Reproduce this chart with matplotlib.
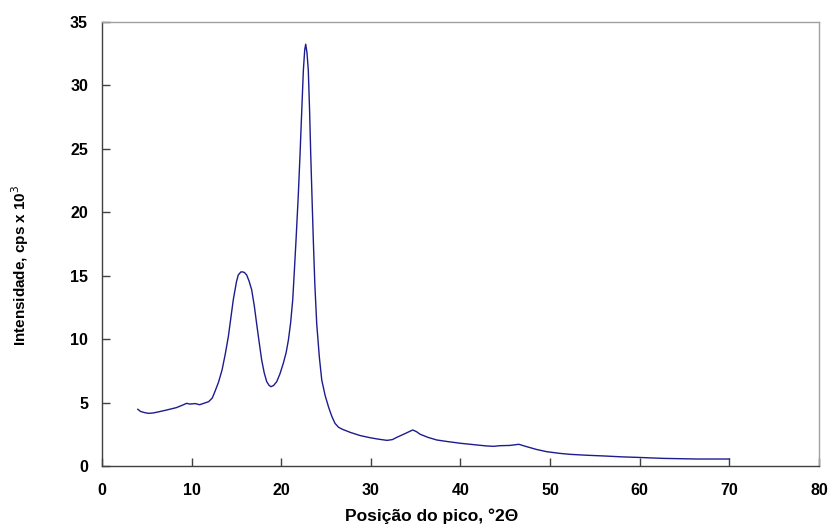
import matplotlib
matplotlib.use("Agg")
import matplotlib.pyplot as plt

# diffractogram
two_theta = [4.0, 4.3, 4.8, 5.2, 5.7, 6.2, 7.2, 8.3, 9.0, 9.45, 9.8, 10.4, 10.9, 11.4,
             11.9, 12.3, 12.6, 13.0, 13.4, 13.75, 14.1, 14.65, 15.0, 15.2, 15.5,
             15.7, 15.9, 16.15, 16.4, 16.7, 17.0, 17.26, 17.55, 17.82, 18.1, 18.38,
             18.65, 18.86, 19.15, 19.5, 19.85, 20.23, 20.55, 20.8, 21.05, 21.28,
             21.45, 21.65, 21.9, 22.1, 22.3, 22.47, 22.62, 22.73, 22.87, 23.02,
             23.16, 23.29, 23.45, 23.58, 23.75, 23.96, 24.25, 24.52, 24.9, 25.3,
             25.65, 26.0, 26.4, 26.8, 27.7, 28.8, 29.9, 30.8, 31.8, 32.4, 32.9,
             33.8, 34.67, 35.1, 35.5, 36.4, 37.35, 38.6, 40.0, 41.5, 42.9, 43.7,
             44.4, 45.5, 46.5, 47.4, 48.5, 49.6, 51.0, 52.2, 54.0, 56.0, 58.0,
             59.7, 62.6, 66.4, 70.0]
intensity = [4.47, 4.3, 4.2, 4.15, 4.18, 4.25, 4.41, 4.6, 4.8, 4.94, 4.88, 4.92, 4.83,
             4.95, 5.07, 5.35, 5.86, 6.6, 7.57, 8.8, 10.2, 13.1, 14.5, 15.05, 15.3,
             15.3, 15.25, 15.05, 14.6, 13.9, 12.6, 11.2, 9.7, 8.35, 7.35, 6.65,
             6.35, 6.25, 6.35, 6.65, 7.25, 8.09, 8.95, 9.93, 11.3, 13.08,
             15.2, 17.8, 21.3, 24.6, 28.2, 31.2, 32.8, 33.25, 32.6, 31.2,
             28.1, 24.6, 20.8, 17.8, 14.3, 11.2, 8.6, 6.78, 5.55, 4.6,
             3.9, 3.36, 3.05, 2.9, 2.65, 2.4, 2.23, 2.12, 2.02, 2.08, 2.26,
             2.55, 2.84, 2.7, 2.5, 2.25, 2.05, 1.92, 1.79, 1.68, 1.58, 1.55,
             1.6, 1.62, 1.71, 1.52, 1.3, 1.13, 1.0, 0.92, 0.85, 0.79, 0.72,
             0.68, 0.6, 0.55, 0.55]

x_ticks = [0, 10, 20, 30, 40, 50, 60, 70, 80]
y_ticks = [0, 5, 10, 15, 20, 25, 30, 35]

plt.rcParams['font.family'] = ['Liberation Sans', 'DejaVu Sans']

fig = plt.figure(figsize=(8.31, 5.25), dpi=100)
ax = fig.add_axes([0.1227, 0.1124, 0.8629, 0.8457])

ax.plot(two_theta, intensity, color='#1c1c8e', linewidth=1.0)

ax.set_xlim(0, 80)
ax.set_ylim(0, 35)
ax.set_xticks(x_ticks)
ax.set_yticks(y_ticks)

for s in ['left', 'bottom']:
    ax.spines[s].set_color('#404040')
    ax.spines[s].set_linewidth(1.0)
for s in ['top', 'right']:
    ax.spines[s].set_color('#a0a0a0')
    ax.spines[s].set_linewidth(1.0)

ax.tick_params(direction='in', length=6, width=1, color='#404040', labelsize=11.5)
ax.tick_params(axis='x', pad=12)
ax.tick_params(axis='y', pad=10)
for lab in ax.get_xticklabels() + ax.get_yticklabels():
    lab.set_fontweight('bold')

# axis titles sit off-centre in the original, so place them on the figure
fig.text(0.52, 0.008, 'Posição do pico, °2Θ', fontsize=12.5, fontweight='bold',
         ha='center', va='baseline')
fig.text(0.024, 0.495, 'Intensidade, cps x 10$^3$', fontsize=11, fontweight='bold',
         rotation=90, ha='center', va='center')

fig.savefig('out.png', dpi=100)
